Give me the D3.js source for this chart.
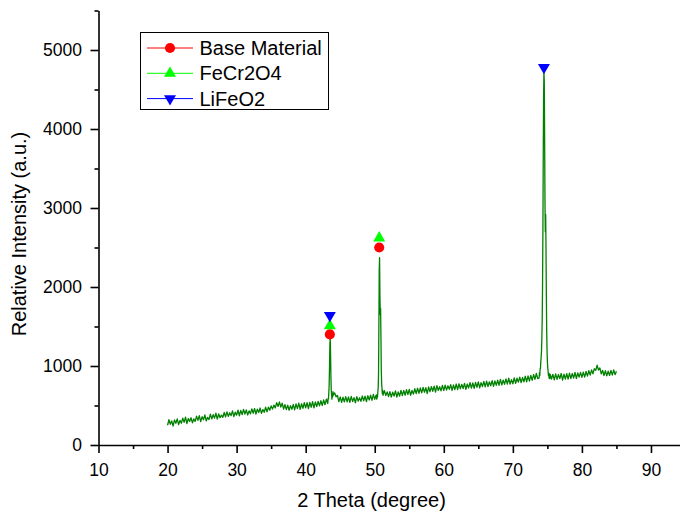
<!DOCTYPE html>
<html>
<head>
<meta charset="utf-8">
<script src="https://cdn.jsdelivr.net/npm/d3@7"></script>
<style>
  body { margin: 0; background: #fff; }
  text { font-family: "Liberation Sans", Arial, sans-serif; fill: #000; }
</style>
</head>
<body>
<div id="chart"></div>
<script>
// XRD scan, 2theta 20..85 in 0.2 deg steps
const scanStart = 20
const scanStep = 0.2
const scanIntensity = [
  250, 320, 262, 305, 240, 318, 275, 330, 258, 312,
  275, 340, 288, 352, 270, 335, 298, 345, 280, 330,
  300, 365, 312, 372, 295, 358, 320, 380, 305, 350,
  322, 390, 330, 385, 340, 402, 328, 395, 345, 378,
  350, 412, 355, 420, 362, 408, 372, 432, 360, 415,
  378, 440, 370, 438, 385, 450, 392, 445, 380, 432,
  395, 458, 402, 462, 390, 455, 410, 468, 400, 450,
  415, 478, 420, 480, 440, 495, 455, 505, 470, 535,
  488, 545, 480, 530, 455, 512, 448, 505, 440, 498,
  452, 515, 445, 520, 460, 530, 450, 522, 465, 535,
  470, 535, 462, 540, 478, 548, 470, 545, 485, 552,
  495, 560, 500, 572, 510, 580, 555, 560, 580, 600,
  640, 660, 610, 628, 548, 610, 540, 605, 545, 612,
  545, 608, 540, 615, 550, 600, 535, 612, 555, 598,
  552, 620, 560, 618, 548, 625, 570, 630, 565, 640,
  578, 632, 630, 700, 2000, 1700, 900, 688, 625, 672,
  612, 675, 608, 668, 620, 685, 605, 672, 618, 690,
  625, 692, 630, 700, 638, 705, 630, 690, 645, 712,
  650, 718, 655, 722, 660, 730, 668, 725, 650, 735,
  672, 740, 680, 745, 670, 752, 690, 738, 685, 755,
  690, 758, 695, 750, 705, 765, 692, 760, 700, 772,
  700, 775, 710, 768, 715, 780, 705, 772, 722, 790,
  720, 785, 718, 792, 730, 798, 722, 790, 740, 805,
  735, 808, 740, 800, 750, 815, 742, 812, 755, 820,
  755, 830, 760, 822, 768, 838, 770, 845, 772, 828,
  775, 850, 780, 845, 795, 858, 790, 855, 800, 870,
  800, 875, 810, 882, 818, 892, 830, 905, 840, 880,
  900, 1000, 2000, 4000, 2000, 1000, 900, 870, 835, 895,
  825, 900, 830, 892, 840, 905, 822, 898, 835, 902,
  835, 910, 840, 905, 848, 918, 842, 912, 860, 920,
  855, 922, 860, 930, 872, 940, 885, 950, 900, 965,
  945, 1010, 948, 975, 900, 945, 880, 940, 875, 935,
  880, 945, 885, 950, 890, 932
]

// finer readings across the peaks [2theta, intensity]
const peak43 = [
  [43.20, 525], [43.25, 590], [43.30, 585], [43.35, 660], [43.40, 760],
  [43.45, 980], [43.50, 1250], [43.55, 1370], [43.60, 1180], [43.65, 880],
  [43.70, 700], [43.75, 640], [43.80, 580], [43.85, 640], [43.90, 610],
  [43.95, 675], [44.00, 630]
]
const peak50 = [
  [50.30, 580], [50.35, 640], [50.40, 605], [50.45, 675], [50.50, 720],
  [50.55, 900], [50.60, 1500], [50.65, 2200], [50.70, 2370], [50.75, 1900],
  [50.80, 1650], [50.85, 1730], [50.90, 1350], [50.95, 950], [51.00, 780],
  [51.05, 720], [51.10, 650], [51.15, 690], [51.20, 630]
]
const peak74 = [
  [73.80, 850], [73.85, 915], [73.90, 880], [73.95, 965], [74.00, 970],
  [74.05, 1060], [74.10, 1110], [74.15, 1200], [74.20, 1350], [74.25, 1600],
  [74.30, 2000], [74.35, 2700], [74.40, 3600], [74.45, 4400], [74.50, 4720],
  [74.55, 4600], [74.60, 3900], [74.65, 3100], [74.70, 2700], [74.75, 2920],
  [74.80, 2500], [74.85, 1900], [74.90, 1450], [74.95, 1200], [75.00, 1060],
  [75.05, 980], [75.10, 940], [75.15, 880], [75.20, 910], [75.25, 845],
  [75.30, 900], [75.35, 840], [75.40, 895]
]

// phase markers
const baseMaterial = [[43.5, 1400], [50.65, 2500]]
const fecr2o4 = [[43.5, 1510], [50.65, 2620]]
const lifeo2 = [[43.5, 1640], [74.5, 4780]]
const seriesNames = ["Base Material", "FeCr2O4", "LiFeO2"]

const xTicks = [10, 20, 30, 40, 50, 60, 70, 80, 90]
const xMinor = [15, 25, 35, 45, 55, 65, 75, 85, 95]
const yTicks = [0, 1000, 2000, 3000, 4000, 5000]
const yMinor = [500, 1500, 2500, 3500, 4500, 5500]

const WIDTH = 680
const HEIGHT = 511

const svg = d3.select("#chart")
  .append("svg")
    .attr("width", WIDTH)
    .attr("height", HEIGHT)

const x = d3.scaleLinear().domain([10, 95]).range([98.5, 685.5])
const y = d3.scaleLinear().domain([0, 5500]).range([445, 10.5])

// merge scan with peak readings
const peaks = [peak43, peak50, peak74]
const windows = peaks.map(p => [p[0][0], p[p.length - 1][0]])
let points = scanIntensity.map((v, i) => [scanStart + i * scanStep, v])
  .filter(d => !windows.some(w => d[0] >= w[0] - 1e-6 && d[0] <= w[1] + 1e-6))
points = points.concat(...peaks).sort((a, b) => a[0] - b[0])

const line = d3.line()
  .x(d => x(d[0]))
  .y(d => y(d[1]))

svg.append("path")
  .datum(points)
  .attr("fill", "none")
  .attr("stroke", "#008000")
  .attr("stroke-width", 1.3)
  .attr("stroke-linejoin", "round")
  .attr("d", line)

// axes
svg.append("g")
  .attr("transform", `translate(0, ${y(0)})`)
  .call(d3.axisBottom(x).tickValues(xTicks).tickSize(8).tickSizeOuter(0).tickPadding(11))
svg.append("g")
  .attr("transform", `translate(0, ${y(0)})`)
  .call(d3.axisBottom(x).tickValues(xMinor).tickSize(4).tickSizeOuter(0).tickFormat(""))
  .select(".domain").remove()

svg.append("g")
  .attr("transform", `translate(${x(10)}, 0)`)
  .call(d3.axisLeft(y).tickValues(yTicks).tickFormat(d3.format("d")).tickSize(8).tickSizeOuter(0).tickPadding(8.5))
svg.append("g")
  .attr("transform", `translate(${x(10)}, 0)`)
  .call(d3.axisLeft(y).tickValues(yMinor).tickSize(4).tickSizeOuter(0).tickFormat(""))
  .select(".domain").remove()

svg.selectAll(".domain, .tick line")
  .attr("stroke", "#000")
  .attr("stroke-width", 1.6)
svg.selectAll(".tick text")
  .attr("font-family", "Liberation Sans, Arial, sans-serif")
  .attr("font-size", 17.5)
  .attr("fill", "#000")

// axis titles
svg.append("text")
  .attr("x", 371.5)
  .attr("y", 507)
  .attr("text-anchor", "middle")
  .attr("font-size", 20)
  .text("2 Theta (degree)")

svg.append("text")
  .attr("transform", "translate(26, 234) rotate(-90)")
  .attr("text-anchor", "middle")
  .attr("font-size", 20)
  .text("Relative Intensity (a.u.)")

// markers
const circleSym = d3.symbol().type(d3.symbolCircle).size(80)
const triSym = d3.symbol().type(d3.symbolTriangle).size(62)

const phases = [
  { name: seriesNames[0], data: baseMaterial, color: "#ff0000", sym: circleSym, rot: 0 },
  { name: seriesNames[1], data: fecr2o4, color: "#00ff00", sym: triSym, rot: 0 },
  { name: seriesNames[2], data: lifeo2, color: "#0000ff", sym: triSym, rot: 180 }
]

phases.forEach(p => {
  svg.append("g").selectAll("path")
    .data(p.data)
    .enter().append("path")
      .attr("d", p.sym())
      .attr("transform", d => `translate(${x(d[0])}, ${y(d[1])}) rotate(${p.rot})`)
      .attr("fill", p.color)
})

// legend
const legend = svg.append("g")
legend.append("rect")
  .attr("x", 140.5)
  .attr("y", 32.5)
  .attr("width", 188)
  .attr("height", 77)
  .attr("fill", "#fff")
  .attr("stroke", "#000")
  .attr("stroke-width", 1)

const rows = legend.selectAll("g.row")
  .data(phases)
  .enter().append("g")
    .attr("class", "row")
    .attr("transform", (d, i) => `translate(0, ${48 + i * 25.3})`)

rows.append("line")
  .attr("x1", 147)
  .attr("x2", 193)
  .attr("stroke", d => d.color)
  .attr("stroke-width", 1)
rows.append("path")
  .attr("d", d => d.sym())
  .attr("transform", d => `translate(170, 0) rotate(${d.rot})`)
  .attr("fill", d => d.color)
rows.append("text")
  .attr("x", 199.5)
  .attr("dy", "0.35em")
  .attr("font-size", 20)
  .text(d => d.name)
</script>
</body>
</html>
